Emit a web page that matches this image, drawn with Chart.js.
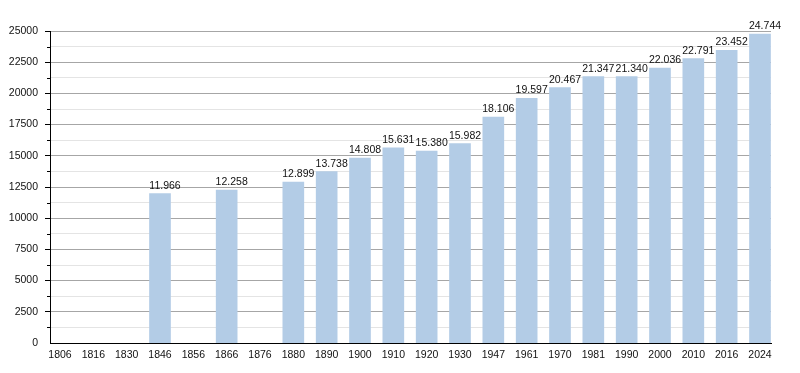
<!DOCTYPE html>
<html>
<head>
<meta charset="utf-8">
<script src="https://cdn.jsdelivr.net/npm/chart.js@4/dist/chart.umd.min.js"></script>
<style>
  html, body { margin: 0; padding: 0; background: #fff; }
  #wrap { width: 800px; height: 373px; }
</style>
</head>
<body>
<div id="wrap"><canvas id="chart" width="800" height="373"></canvas></div>
<script>
// Années du recensement et population
const years = ['1806', '1816', '1830', '1846', '1856', '1866', '1876', '1880', '1890', '1900', '1910',
  '1920', '1930', '1947', '1961', '1970', '1981', '1990', '2000', '2010', '2016', '2024'];
const population = [null, null, null, 11966, null, 12258, null, 12899, 13738, 14808, 15631,
  15380, 15982, 18106, 19597, 20467, 21347, 21340, 22036, 22791, 23452, 24744];

const barColor = '#b3cce6';
const fontFamily = '"Liberation Sans", Arial, sans-serif';

// format 12345 -> 12.345
function formatValue(v) {
  return String(v).replace(/\B(?=(\d{3})+(?!\d))/g, '.');
}

// Étiquettes de valeur au-dessus des barres
const valueLabelsPlugin = {
  id: 'valueLabels',
  afterDatasetsDraw(chart) {
    const ctx = chart.ctx;
    const meta = chart.getDatasetMeta(0);
    ctx.save();
    ctx.font = '10.5px ' + fontFamily;
    ctx.fillStyle = '#111';
    ctx.textAlign = 'center';
    ctx.textBaseline = 'alphabetic';
    meta.data.forEach((bar, i) => {
      const v = population[i];
      if (v === null) return;
      ctx.fillText(formatValue(v), bar.x + 5, bar.y - 5);
    });
    ctx.restore();
  },
};

// petits traits secondaires sur l'axe Y
const minorTicksPlugin = {
  id: 'minorTicks',
  afterDraw(chart) {
    const y = chart.scales.y;
    const ctx = chart.ctx;
    ctx.save();
    ctx.strokeStyle = '#000';
    ctx.lineWidth = 1;
    y.ticks.forEach((t) => {
      if (t.value % 2500 === 0) return;
      const py = Math.round(y.getPixelForValue(t.value)) + 0.5;
      ctx.beginPath();
      ctx.moveTo(y.right - 3, py);
      ctx.lineTo(y.right, py);
      ctx.stroke();
    });
    ctx.restore();
  },
};

const ctx = document.getElementById('chart').getContext('2d');
new Chart(ctx, {
  type: 'bar',
  data: {
    datasets: [{
      data: population.map((y, i) => ({ x: i, y: y })),
      backgroundColor: barColor,
      borderWidth: 0,
      barThickness: 21,
    }],
  },
  options: {
    animation: false,
    responsive: false,
    layout: { padding: { left: 0, right: 29, top: 31, bottom: 0 } },
    plugins: { legend: { display: false }, tooltip: { enabled: false } },
    scales: {
      x: {
        type: 'linear',
        offset: false,
        min: -0.3,
        max: 21.33,
        afterFit: (scale) => { scale.height = 30; },
        afterBuildTicks: (scale) => {
          scale.ticks = years.map((_, i) => ({ value: i }));
        },
        ticks: {
          autoSkip: false,
          maxRotation: 0,
          padding: 6,
          color: '#111',
          font: { family: fontFamily, size: 10.5 },
          callback: (value) => years[value],
        },
        grid: { display: false, drawTicks: false },
        border: { color: '#000', width: 1 },
      },
      y: {
        min: 0,
        max: 25000,
        afterFit: (scale) => { scale.width = 50; },
        afterBuildTicks: (scale) => {
          const t = [];
          for (let v = 0; v <= 25000; v += 1250) t.push({ value: v });
          scale.ticks = t;
        },
        ticks: {
          autoSkip: false,
          padding: 7,
          color: '#111',
          font: { family: fontFamily, size: 10.5 },
          callback: (value) => (value % 2500 === 0 ? String(value) : ''),
        },
        grid: {
          color: (c) => (c.tick && c.tick.value % 2500 === 0 ? '#a6a6a6' : '#e4e4e4'),
          tickColor: (c) => (c.tick && c.tick.value % 2500 === 0 ? '#000' : 'rgba(0,0,0,0)'),
          tickLength: 5,
          lineWidth: (c) => (c.tick && c.tick.value === 0 ? 0 : 1),
        },
        border: { color: '#000', width: 1 },
      },
    },
  },
  plugins: [valueLabelsPlugin, minorTicksPlugin],
});
</script>
</body>
</html>
